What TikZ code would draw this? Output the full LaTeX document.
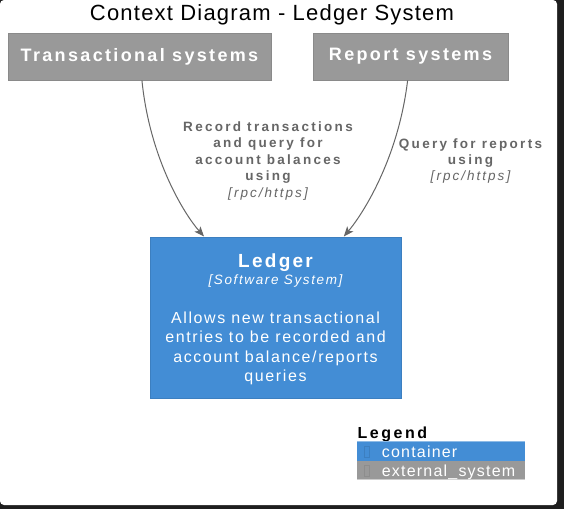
\documentclass[tikz,border=0pt]{standalone}
\usepackage{fontspec}
\setmainfont{Liberation Sans}
\newfontfamily\titlefont[LetterSpace=5.5]{Liberation Sans}
\newfontfamily\boxfont[LetterSpace=13]{Liberation Sans}
\newfontfamily\lblfont[LetterSpace=17]{Liberation Sans}
\newfontfamily\lblitfont[LetterSpace=15]{Liberation Sans}
\newfontfamily\typefont[LetterSpace=12]{Liberation Sans}
\newfontfamily\descfont[LetterSpace=10]{Liberation Sans}
\newfontfamily\legfont[LetterSpace=7.5]{Liberation Sans}
\newfontfamily\legtitlefont[LetterSpace=16]{Liberation Sans}
\usetikzlibrary{arrows.meta}
\definecolor{extgrey}{HTML}{999999}
\definecolor{extborder}{HTML}{8A8A8A}
\definecolor{contblue}{HTML}{438DD5}
\definecolor{contborder}{HTML}{3C7FC0}
\definecolor{labelgrey}{HTML}{666666}
\definecolor{bgdark}{HTML}{1E1E1E}
\tikzset{
  extbox/.style={draw=extborder, fill=extgrey, line width=1pt, inner sep=0pt,
    text=white, font=\fontsize{18}{20}\selectfont\boxfont\bfseries},
  contbox/.style={draw=contborder, fill=contblue, line width=1pt, inner sep=0pt},
  txt/.style={anchor=base, inner sep=0pt},
  lbl/.style={txt, text=labelgrey, font=\fontsize{13.5}{15}\selectfont\lblfont\bfseries},
  lblit/.style={txt, text=labelgrey, font=\fontsize{13.5}{15}\selectfont\lblitfont\itshape},
  rel/.style={draw=labelgrey, line width=1pt, -{Stealth[length=10pt,width=8pt,inset=2.5pt]}},
  ledtxt/.style={txt, text=white, font=\fontsize{16}{18}\selectfont\descfont},
  legtxt/.style={anchor=base west, inner sep=0pt, text=white, font=\fontsize{16}{18}\selectfont\legfont},
  tofu/.style={draw, line width=0.6pt, inner sep=0pt, minimum width=5pt, minimum height=11pt}
}
\begin{document}
\begin{tikzpicture}[x=1pt,y=-1pt]
\useasboundingbox (0,0) rectangle (564,509);
\fill[bgdark] (0,0) rectangle (564,509);
\fill[white, rounded corners=4pt] (0,0) rectangle (557,505);

\node[txt, font=\fontsize{22}{24}\selectfont\titlefont] (title) at (272,20.7) {Context Diagram - Ledger System};

\node[extbox, minimum width=263pt, minimum height=47pt] (ts) at (139.5,56.5) {Transactional systems};
\node[extbox, minimum width=195pt, minimum height=47pt] (rs) at (410.5,56.5) {Report systems};

\node[contbox, minimum width=251pt, minimum height=161pt] (ledger) at (275.5,317.5) {};
\node[txt, text=white, font=\fontsize{19}{21}\selectfont\typefont\bfseries] (ledname) at (275.5,267) {Ledger};
\node[txt, text=white, font=\fontsize{13.5}{15}\selectfont\typefont\itshape] (ledtype) at (275.5,284) {[Software System]};
\node[ledtxt] (ledd1) at (275.5,323.3) {Allows new transactional};
\node[ledtxt] (ledd2) at (275.5,342.7) {entries to be recorded and};
\node[ledtxt] (ledd3) at (275.5,362.7) {account balance/reports};
\node[ledtxt] (ledd4) at (275.5,381.7) {queries};

\draw[rel] (ts) .. controls (150,160) and (185,215) .. (ledger);
\draw[rel] (rs) .. controls (398,160) and (362,215) .. (ledger);

\node[lbl] (r1a) at (268,131) {Record transactions};
\node[lbl] (r1b) at (268,147.7) {and query for};
\node[lbl] (r1c) at (268,164) {account balances};
\node[lbl] (r1d) at (268,180.7) {using};
\node[lblit] (r1e) at (268,197) {[rpc/https]};

\node[lbl] (r2a) at (470.5,148.3) {Query for reports};
\node[lbl] (r2b) at (470.5,164.3) {using};
\node[lblit] (r2c) at (470.5,180.7) {[rpc/https]};

\node[anchor=base west, inner sep=0pt, font=\fontsize{16}{18}\selectfont\legtitlefont\bfseries] (legtitle) at (357.3,438) {Legend};
\fill[contblue] (357,441) rectangle (525,461);
\draw[line width=0.8pt, color=contblue!60!white] (357,441.4) -- (525,441.4);
\fill[extgrey] (357,461) rectangle (525,480);
\draw[line width=0.8pt, color=extgrey!50!white] (357,479.6) -- (525,479.6);
\node[tofu, draw=contblue!90!black] (tofu1) at (366.3,452) {};
\node[tofu, draw=extgrey!92!black] (tofu2) at (366.3,471) {};
\node[legtxt] (leg1) at (381.7,457.3) {container};
\node[legtxt] (leg2) at (381.7,476.7) {external\_system};
\end{tikzpicture}
\end{document}
